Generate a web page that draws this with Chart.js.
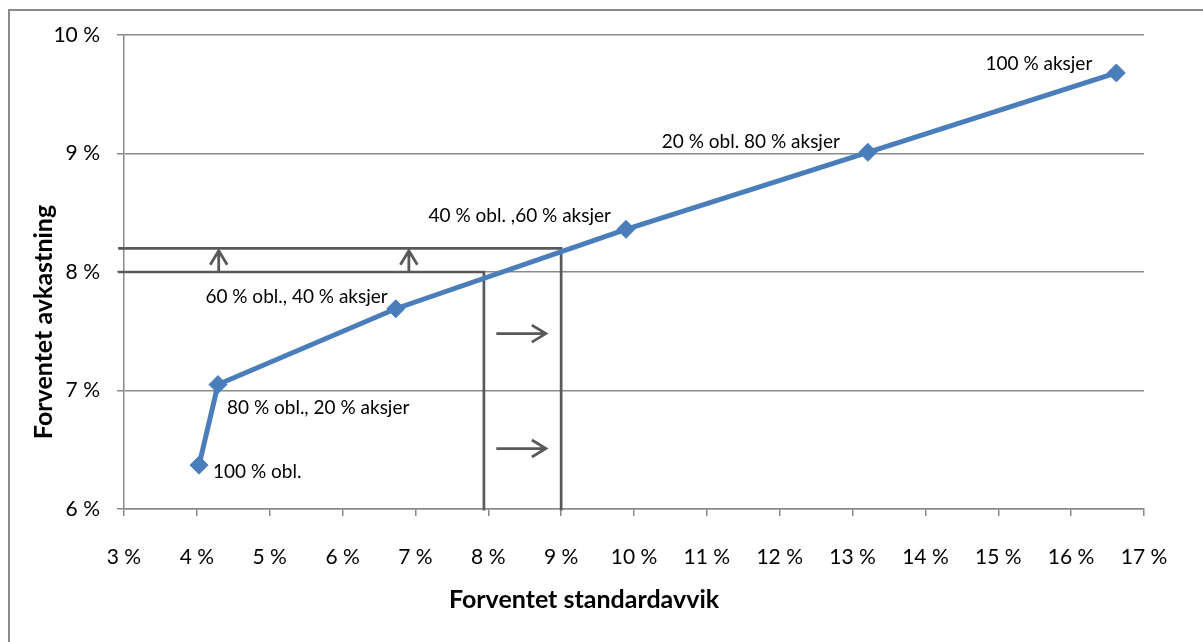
<!DOCTYPE html>
<html lang="no">
<head>
<meta charset="utf-8">
<title>Forventet avkastning og standardavvik</title>
<script src="https://cdn.jsdelivr.net/npm/chart.js@4.4.1/dist/chart.umd.min.js"></script>
<style>
  html, body { margin: 0; padding: 0; background: #ffffff; }
  #wrap { position: relative; width: 1203px; height: 642px; }
  canvas { display: block; }
</style>
</head>
<body>
<div id="wrap"><canvas id="frontier" width="1203" height="642"></canvas></div>
<script>
// Portfolio mixes: bonds (obl.) vs. equities (aksjer)
const mixLabels = [
  '100 % obl.',
  '80 % obl., 20 % aksjer',
  '60 % obl., 40 % aksjer',
  '40 % obl. ,60 % aksjer',
  '20 % obl. 80 % aksjer',
  '100 % aksjer'
];
// Expected standard deviation (%) per mix
const expectedStdDev = [4.03, 4.29, 6.73, 9.89, 13.21, 16.62];
// Expected return (%) per mix
const expectedReturn = [6.37, 7.05, 7.69, 8.36, 9.01, 9.68];

// Return targets and the standard deviation they require
const targetReturn = [8.0, 8.2];
const targetStdDev = [7.94, 9.0];

// Arrow markers: upward arrows (at std. dev.) and rightward arrows (at return)
const upArrowStdDev = [4.30, 6.91];
const rightArrowReturn = [7.48, 6.51];
const rightArrowSpan = [8.11, 8.79];

// Axis ranges and tick steps
const xAxisRange = [3, 17];
const yAxisRange = [6, 10];
const tickStep = 1;

const FONT = "Lato, 'Open Sans', 'Liberation Sans', sans-serif";
const GRID = '#8a8a8a';
const GUIDE = '#595959';
const SERIES = '#4a7ebb';

// Where each mix label sits relative to its marker
const labelPlacement = [
  { align: 'left',  dx: 14,  dy: 7 },
  { align: 'left',  dx: 9,   dy: 23 },
  { align: 'right', dx: -8,  dy: -12 },
  { align: 'right', dx: -15, dy: -13 },
  { align: 'right', dx: -28, dy: -10 },
  { align: 'right', dx: -24, dy: -9 }
];

const frontierPoints = expectedStdDev.map((s, i) => ({ x: s, y: expectedReturn[i] }));

// L-shaped guide for each target: from the y axis across to the required std. dev., then down
const guideSets = targetReturn.map((r, i) => ({
  data: [
    { x: xAxisRange[0] - 0.08, y: r },
    { x: targetStdDev[i], y: r },
    { x: targetStdDev[i], y: yAxisRange[0] - 0.012 }
  ],
  showLine: true,
  borderColor: GUIDE,
  borderWidth: 2.7,
  pointRadius: 0,
  pointHoverRadius: 0,
  clip: false,
  order: 2
}));

function drawArrow(ctx, x1, y1, x2, y2) {
  const ang = Math.atan2(y2 - y1, x2 - x1);
  const len = 14, half = 8.5;
  ctx.beginPath();
  ctx.moveTo(x1, y1);
  ctx.lineTo(x2, y2);
  const bx = x2 - Math.cos(ang) * len, by = y2 - Math.sin(ang) * len;
  const nx = -Math.sin(ang) * half, ny = Math.cos(ang) * half;
  ctx.moveTo(bx + nx, by + ny);
  ctx.lineTo(x2, y2);
  ctx.lineTo(bx - nx, by - ny);
  ctx.stroke();
}

const decorations = {
  id: 'decorations',
  beforeDraw(chart) {
    const ctx = chart.ctx;
    ctx.save();
    ctx.strokeStyle = GRID;
    ctx.lineWidth = 2;
    ctx.beginPath();
    ctx.moveTo(9, chart.height);
    ctx.lineTo(9, 10);
    ctx.lineTo(chart.width, 10);
    ctx.stroke();
    ctx.restore();
  },
  afterDatasetsDraw(chart) {
    const ctx = chart.ctx;
    const xs = chart.scales.x, ys = chart.scales.y;
    ctx.save();
    ctx.strokeStyle = GUIDE;
    ctx.lineWidth = 2.8;
    ctx.lineCap = 'butt';
    ctx.lineJoin = 'miter';
    const yLo = ys.getPixelForValue(targetReturn[0]);
    const yHi = ys.getPixelForValue(targetReturn[1]);
    upArrowStdDev.forEach(s => {
      const px = xs.getPixelForValue(s);
      drawArrow(ctx, px, yLo, px, yHi + 2.5);
    });
    rightArrowReturn.forEach(r => {
      const py = ys.getPixelForValue(r);
      drawArrow(ctx, xs.getPixelForValue(rightArrowSpan[0]), py, xs.getPixelForValue(rightArrowSpan[1]), py);
    });

    // Mix labels next to the markers
    ctx.fillStyle = '#000000';
    ctx.font = '19px ' + FONT;
    ctx.textBaseline = 'middle';
    const meta = chart.getDatasetMeta(0);
    meta.data.forEach((pt, i) => {
      const p = labelPlacement[i];
      ctx.textAlign = p.align;
      ctx.fillText(mixLabels[i], pt.x + p.dx, pt.y + p.dy);
    });

    // Axis titles
    ctx.font = 'bold 25px ' + FONT;
    ctx.textAlign = 'center';
    ctx.fillText('Forventet standardavvik', 584, 600);
    ctx.translate(44, 322);
    ctx.rotate(-Math.PI / 2);
    ctx.fillText('Forventet avkastning', 0, 0);
    ctx.restore();
  }
};

const pct = v => v + ' %';

new Chart(document.getElementById('frontier'), {
  type: 'scatter',
  data: {
    datasets: [
      {
        data: frontierPoints,
        showLine: true,
        borderColor: SERIES,
        backgroundColor: SERIES,
        borderWidth: 5,
        pointStyle: 'rectRot',
        pointRadius: 9,
        pointHoverRadius: 9,
        pointBorderWidth: 1,
        pointBorderColor: SERIES,
        pointBackgroundColor: SERIES,
        order: 1
      },
      ...guideSets
    ]
  },
  options: {
    responsive: false,
    animation: false,
    events: [],
    layout: { padding: { left: 0, right: 59, top: 35, bottom: 0 } },
    plugins: { legend: { display: false }, tooltip: { enabled: false }, title: { display: false } },
    scales: {
      x: {
        type: 'linear',
        min: xAxisRange[0],
        max: xAxisRange[1],
        afterFit(scale) { scale.height = 133; },
        ticks: { stepSize: tickStep, callback: pct, color: '#000', font: { family: FONT, size: 21 }, padding: 29, maxRotation: 0 },
        grid: { drawOnChartArea: false, drawTicks: true, tickLength: 7, color: GRID, lineWidth: 1.5 },
        border: { display: true, color: GRID, width: 1.5 }
      },
      y: {
        type: 'linear',
        min: yAxisRange[0],
        max: yAxisRange[1],
        afterFit(scale) { scale.width = 124; },
        ticks: { stepSize: tickStep, callback: pct, color: '#000', font: { family: FONT, size: 21 }, padding: 17 },
        grid: { drawOnChartArea: true, drawTicks: true, tickLength: 7, color: GRID, lineWidth: 1.5 },
        border: { display: true, color: GRID, width: 1.5 }
      }
    }
  },
  plugins: [decorations]
});
</script>
</body>
</html>
